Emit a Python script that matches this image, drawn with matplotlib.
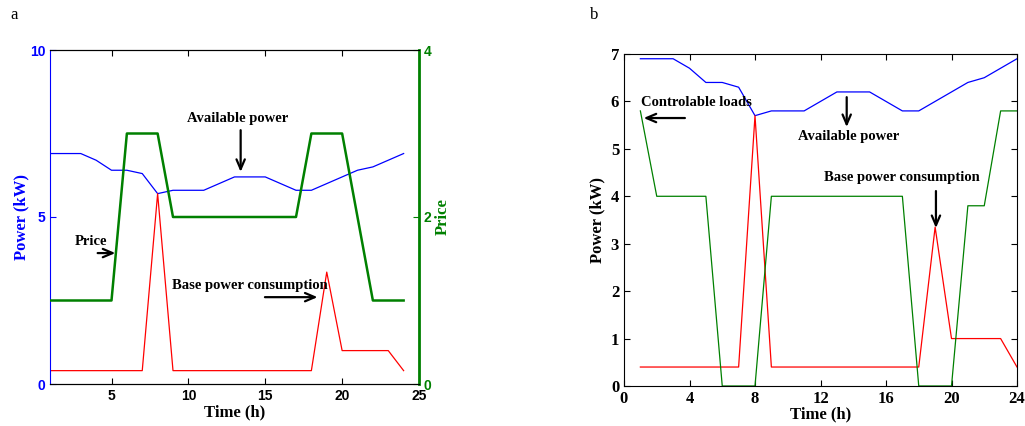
import numpy as np
import matplotlib
matplotlib.use('Agg')
import matplotlib.pyplot as plt

# hourly data (hours 1..24)
hours = np.arange(1, 25)
available = [6.9, 6.9, 6.9, 6.7, 6.4, 6.4, 6.3, 5.7, 5.8, 5.8, 5.8, 6.0,
             6.2, 6.2, 6.2, 6.0, 5.8, 5.8, 6.0, 6.2, 6.4, 6.5, 6.7, 6.9]
base = [0.4, 0.4, 0.4, 0.4, 0.4, 0.4, 0.4, 5.7, 0.4, 0.4, 0.4, 0.4,
        0.4, 0.4, 0.4, 0.4, 0.4, 0.4, 3.35, 1.0, 1.0, 1.0, 1.0, 0.4]
price = [1, 1, 1, 1, 1, 3, 3, 3, 2, 2, 2, 2,
         2, 2, 2, 2, 2, 3, 3, 3, 2, 1, 1, 1]
controllable = [5.8, 4.0, 4.0, 4.0, 4.0, 0, 0, 0, 4.0, 4.0, 4.0, 4.0,
                4.0, 4.0, 4.0, 4.0, 4.0, 0, 0, 0, 3.8, 3.8, 5.8, 5.8]

BLUE = '#0000ff'
RED = '#ff0000'
GREEN = '#008000'
serif = 'Liberation Serif'
sans = 'Liberation Sans'

fig = plt.figure(figsize=(10.25, 4.26), dpi=100)
W, H = 1025, 426

def box(x0, y0, x1, y1):
    return [x0 / W, 1 - y1 / H, (x1 - x0) / W, (y1 - y0) / H]

arrow = dict(arrowstyle='->,head_width=0.3,head_length=0.7', color='black', lw=1.6,
             shrinkA=0, shrinkB=0)
txt = dict(fontfamily=serif, fontweight='bold', fontsize=10.5, ha='center', va='center')

# ---- panel a ----
ax1 = fig.add_axes(box(50, 50, 419, 384))
ax1.plot(hours, available, color=BLUE, lw=0.9)
ax1.plot(hours, base, color=RED, lw=0.9)
ax1.set_xlim(1, 25)
ax1.set_ylim(0, 10)
ax1.set_xticks([5, 10, 15, 20, 25])
ax1.set_yticks([0, 5, 10])
ax1.tick_params(direction='in', top=True, length=4)
ax1.tick_params(axis='y', colors=BLUE)
for lab in ax1.get_xticklabels() + ax1.get_yticklabels():
    lab.set_fontfamily(sans)
    lab.set_fontweight('bold')
    lab.set_fontsize(10)
ax1.spines['left'].set_color(BLUE)
ax1.spines['right'].set_visible(False)
ax1.set_xlabel('Time (h)', fontfamily=serif, fontweight='bold', fontsize=12, labelpad=1)
ax1.set_ylabel('Power (kW)', fontfamily=serif, fontweight='bold', fontsize=12, color=BLUE, labelpad=0)

ax2 = ax1.twinx()
ax2.plot(hours, price, color=GREEN, lw=1.8)
ax2.set_ylim(0, 4)
ax2.set_yticks([0, 2, 4])
ax2.tick_params(direction='in', length=4, colors=GREEN)
for lab in ax2.get_yticklabels():
    lab.set_fontfamily(sans)
    lab.set_fontweight('bold')
    lab.set_fontsize(10)
ax2.spines['right'].set_color(GREEN)
ax2.spines['right'].set_linewidth(2)
ax2.spines['left'].set_visible(False)
ax2.set_ylabel('Price', fontfamily=serif, fontweight='bold', fontsize=12, color=GREEN, labelpad=2)

ax1.annotate('', xy=(13.4, 6.35), xytext=(13.4, 7.6), arrowprops=arrow)
ax1.text(13.2, 7.96, 'Available power', **txt)
ax1.annotate('', xy=(5.25, 3.92), xytext=(4.1, 3.92), arrowprops=arrow)
ax1.text(3.67, 4.28, 'Price', **txt)
ax1.annotate('', xy=(18.4, 2.6), xytext=(14.98, 2.6), arrowprops=arrow)
ax1.text(14.0, 2.96, 'Base power consumption', **txt)

fig.text(10 / W, 1 - 15 / H, 'a', fontfamily=serif, fontsize=12, va='center')

# ---- panel b ----
ax3 = fig.add_axes(box(624, 54, 1017, 386))
ax3.plot(hours, available, color=BLUE, lw=0.9)
ax3.plot(hours, base, color=RED, lw=0.9)
ax3.plot(hours, controllable, color=GREEN, lw=0.9)
ax3.set_xlim(0, 24)
ax3.set_ylim(0, 7)
ax3.set_xticks(range(0, 25, 4))
ax3.set_yticks(range(0, 8))
ax3.tick_params(direction='in', top=True, right=True, length=4)
for lab in ax3.get_xticklabels() + ax3.get_yticklabels():
    lab.set_fontfamily(serif)
    lab.set_fontweight('bold')
    lab.set_fontsize(12)
ax3.set_xlabel('Time (h)', fontfamily=serif, fontweight='bold', fontsize=12, labelpad=0)
ax3.set_ylabel('Power (kW)', fontfamily=serif, fontweight='bold', fontsize=12, labelpad=4)

ax3.annotate('', xy=(1.2, 5.65), xytext=(3.72, 5.65), arrowprops=arrow)
ax3.text(1.04, 5.97, 'Controlable loads', **dict(txt, ha='left'))
ax3.annotate('', xy=(13.6, 5.46), xytext=(13.6, 6.09), arrowprops=arrow)
ax3.text(13.74, 5.27, 'Available power', **txt)
ax3.annotate('', xy=(19.05, 3.33), xytext=(19.05, 4.11), arrowprops=arrow)
ax3.text(17.0, 4.39, 'Base power consumption', **txt)

fig.text(590 / W, 1 - 15 / H, 'b', fontfamily=serif, fontsize=12, va='center')

fig.savefig('out.png', dpi=100)
